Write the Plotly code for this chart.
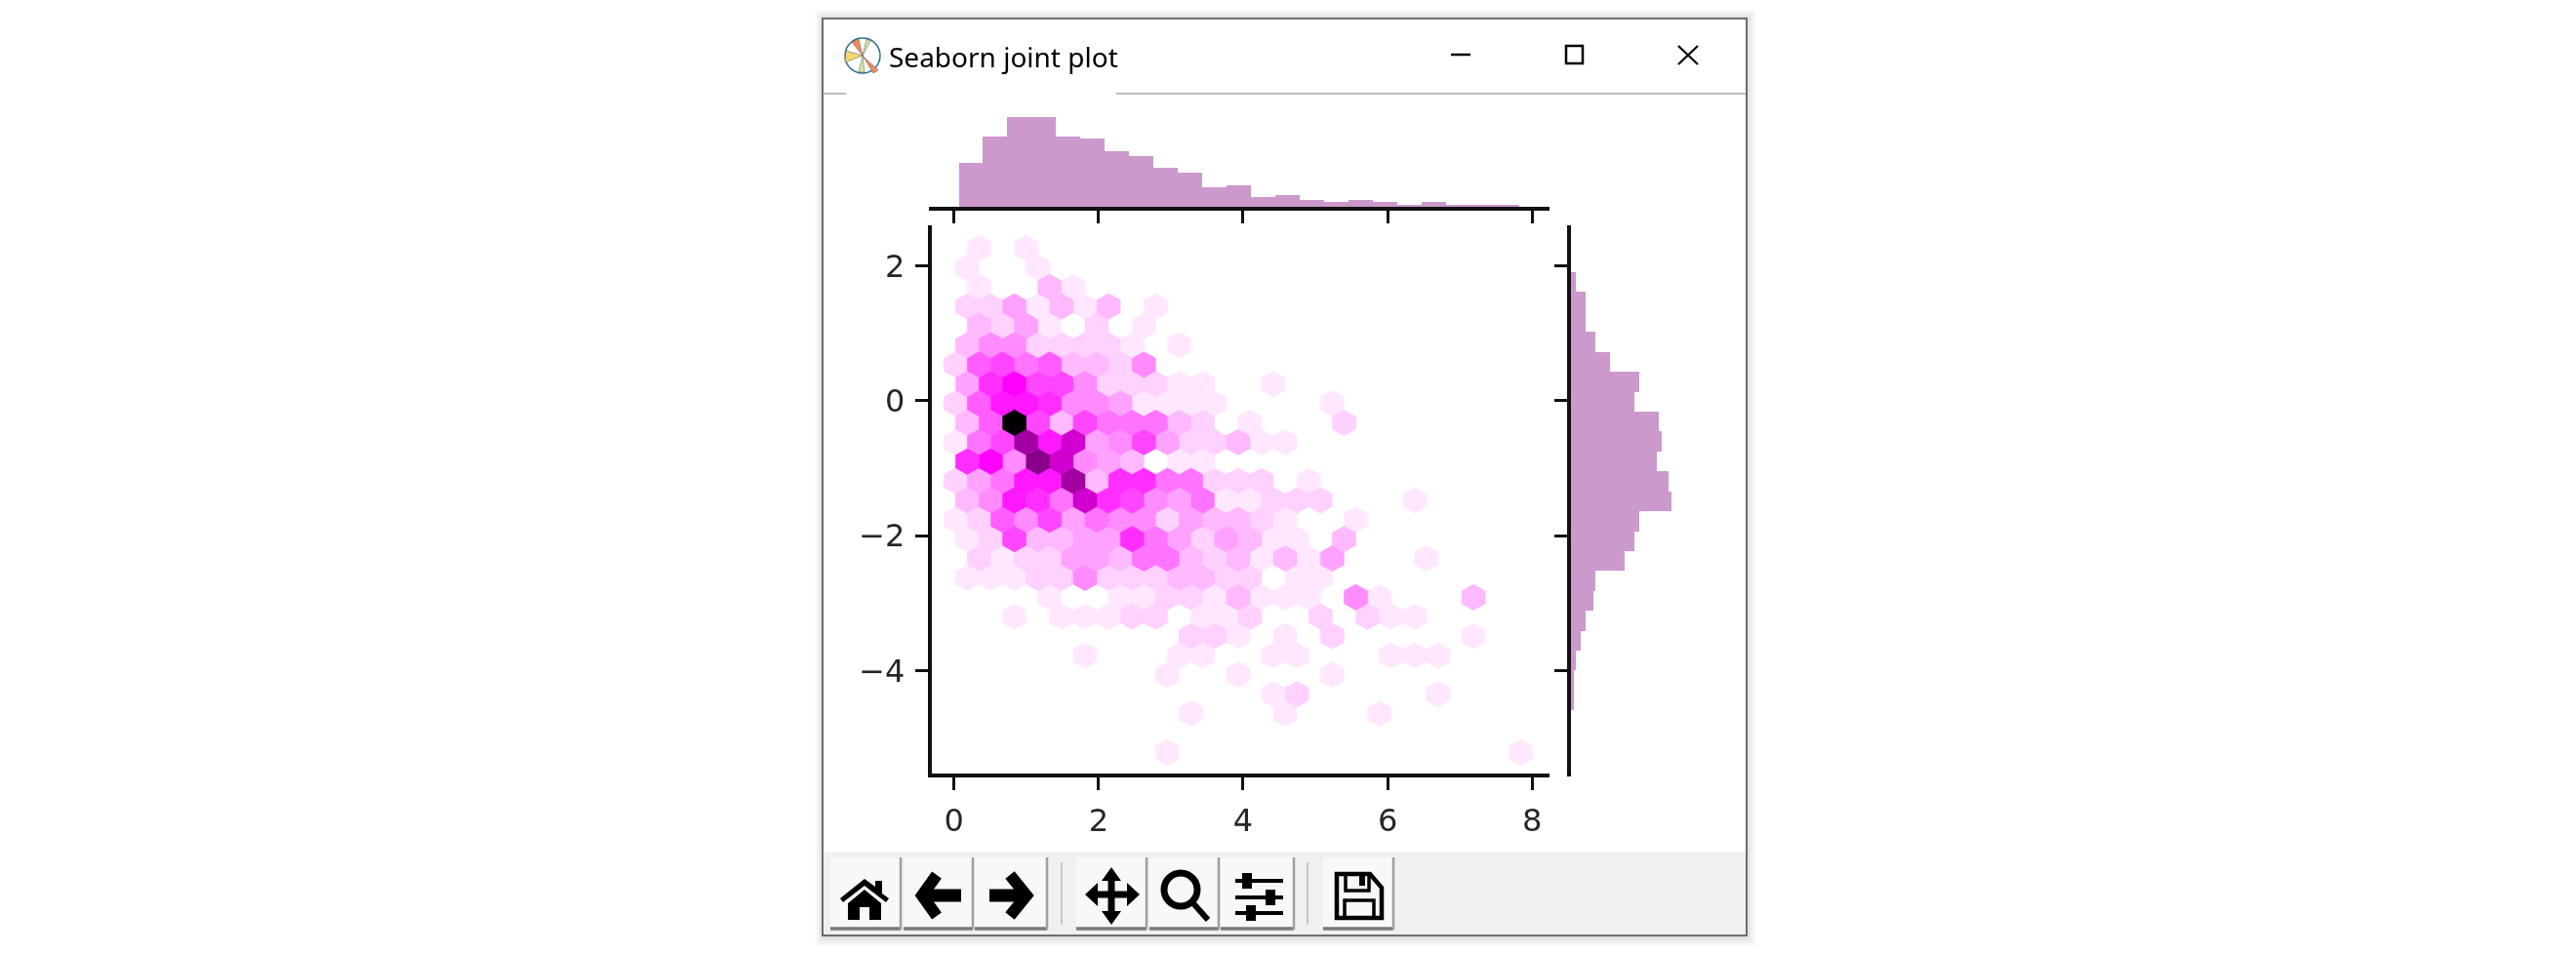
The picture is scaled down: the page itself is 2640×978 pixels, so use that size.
import colorsys
import plotly.graph_objects as go

PAGE_MARGIN = 8
W, H = 2640 - 2 * PAGE_MARGIN, 978 - 2 * PAGE_MARGIN

# ---- chart data ----
x_hist_start = 0.058
x_hist_width = 0.337
x_hist_counts = [18, 29, 37, 37, 29, 28, 23, 21, 16, 14, 8, 9, 4, 5, 3, 2, 3, 2, 1, 2, 1, 1, 1]

y_hist_start = 1.903
y_hist_width = -0.295
y_hist_counts = [2, 6, 6, 10, 16, 28, 26, 36, 37, 35, 40, 41, 28, 26, 22, 10, 9, 6, 4, 2, 1, 1]

hex_x0 = 0.0216
hex_dx = 0.3258
hex_y0 = 2.257
hex_dy = -0.2871
hex_cmax = 22
# counts per hexagon: one list per row from the top, index = column
hex_rows = [
    [0, 1, 0, 1],
    [1, 0, 0, 1],
    [0, 1, 0, 0, 3, 1],
    [2, 2, 4, 1, 3, 1, 3, 0, 1],
    [0, 3, 2, 4, 1, 0, 2, 0, 1],
    [3, 5, 5, 2, 2, 2, 2, 1, 0, 1],
    [2, 7, 8, 6, 7, 3, 3, 2, 5],
    [4, 9, 11, 8, 8, 5, 2, 2, 2, 1, 1, 0, 0, 1],
    [2, 7, 10, 10, 9, 5, 5, 4, 1, 1, 1, 1, 0, 0, 0, 0, 1],
    [3, 7, 22, 8, 3, 8, 6, 6, 6, 3, 2, 0, 1, 0, 0, 0, 2],
    [1, 6, 8, 15, 10, 13, 4, 5, 8, 4, 2, 2, 3, 1, 1],
    [9, 11, 5, 16, 13, 5, 4, 3, 0, 1, 1],
    [2, 4, 6, 10, 10, 15, 3, 9, 9, 6, 6, 2, 2, 2, 0, 1],
    [3, 5, 10, 9, 6, 13, 9, 8, 5, 4, 6, 1, 1, 2, 2, 2, 0, 0, 0, 1],
    [1, 2, 7, 5, 8, 4, 6, 5, 5, 2, 4, 3, 3, 2, 1, 0, 0, 1],
    [1, 2, 8, 3, 3, 4, 4, 9, 6, 4, 2, 4, 3, 1, 1, 0, 3],
    [0, 2, 1, 2, 2, 4, 4, 3, 6, 6, 3, 2, 3, 1, 3, 1, 4, 0, 0, 0, 1],
    [1, 1, 1, 2, 2, 5, 2, 2, 2, 3, 3, 2, 2, 0, 1, 1],
    [0, 0, 0, 0, 1, 0, 0, 1, 1, 2, 2, 1, 3, 1, 1, 1, 0, 5, 1, 0, 0, 0, 3],
    [0, 0, 1, 0, 1, 1, 1, 2, 2, 0, 1, 1, 2, 0, 0, 2, 0, 2, 1, 1],
    [0, 0, 0, 0, 0, 0, 0, 0, 0, 0, 2, 2, 1, 0, 1, 0, 2, 0, 0, 0, 0, 0, 1],
    [0, 0, 0, 0, 0, 1, 0, 0, 0, 1, 1, 0, 0, 1, 1, 0, 0, 0, 1, 1, 1],
    [0, 0, 0, 0, 0, 0, 0, 0, 0, 1, 0, 0, 1, 0, 0, 0, 1],
    [0, 0, 0, 0, 0, 0, 0, 0, 0, 0, 0, 0, 0, 1, 2, 0, 0, 0, 0, 0, 1],
    [0, 0, 0, 0, 0, 0, 0, 0, 0, 0, 1, 0, 0, 0, 1, 0, 0, 0, 1],
    [],
    [0, 0, 0, 0, 0, 0, 0, 0, 0, 1, 0, 0, 0, 0, 0, 0, 0, 0, 0, 0, 0, 0, 0, 0, 1],
]
x_ticks = [0, 2, 4, 6, 8]
y_ticks = [2, 0, -2, -4]
x_range = [-0.313, 8.24]
x2_range = [-0.354, 8.24]
y_range = [-5.521, 2.597]
y3_range = [-5.565, 2.597]
window_title = "Seaborn joint plot"

BAR = "rgb(204,153,204)"
INK = "#262626"


def fx(px):
    return (px - PAGE_MARGIN) / W


def fy(py):
    return 1 - (py - PAGE_MARGIN) / H


def hex_color(c):
    r, g, b = colorsys.hls_to_rgb(300 / 360, 1 - c / hex_cmax, 1)
    return f"rgb({round(r * 255)},{round(g * 255)},{round(b * 255)})"


fig = go.Figure()

# hexbin polygons, one trace per count level
groups = {}
for r, row in enumerate(hex_rows):
    for c, count in enumerate(row):
        if count:
            cx = hex_x0 + hex_dx * c + (hex_dx / 2 if r % 2 else 0)
            cy = hex_y0 + hex_dy * r
            sx, sy = hex_dx / 2, abs(hex_dy)
            xs = [cx + sx, cx + sx, cx, cx - sx, cx - sx, cx, cx + sx, None]
            ys = [cy + sy / 3, cy - sy / 3, cy - 2 * sy / 3, cy - sy / 3, cy + sy / 3, cy + 2 * sy / 3, cy + sy / 3, None]
            g = groups.setdefault(count, ([], []))
            g[0].extend(xs)
            g[1].extend(ys)
for count in sorted(groups):
    col = hex_color(count)
    fig.add_trace(go.Scatter(x=groups[count][0], y=groups[count][1], mode="lines", fill="toself",
                             fillcolor=col, line=dict(color=col, width=0.5), hoverinfo="skip",
                             showlegend=False, xaxis="x", yaxis="y"))

# marginals
fig.add_trace(go.Bar(x=[x_hist_start + x_hist_width * (i + 0.5) for i in range(len(x_hist_counts))],
                     y=x_hist_counts, width=x_hist_width, marker=dict(color=BAR, line=dict(width=0)),
                     showlegend=False, xaxis="x2", yaxis="y2"))
fig.add_trace(go.Bar(y=[y_hist_start + y_hist_width * (i + 0.5) for i in range(len(y_hist_counts))],
                     x=y_hist_counts, width=abs(y_hist_width), orientation="h",
                     marker=dict(color=BAR, line=dict(width=0)),
                     showlegend=False, xaxis="x3", yaxis="y3"))

# ---- window chrome, in pixels ----
shapes = []


def rect(x0, y0, x1, y1, fill=None, line=None, lw=0, layer="below"):
    shapes.append(dict(type="rect", xref="paper", yref="paper", x0=fx(x0), x1=fx(x1), y0=fy(y0), y1=fy(y1),
                       fillcolor=fill or "rgba(0,0,0,0)", line=dict(color=line or "rgba(0,0,0,0)", width=lw),
                       layer=layer))


def seg(x0, y0, x1, y1, color="#000", lw=2):
    shapes.append(dict(type="line", xref="paper", yref="paper", x0=fx(x0), x1=fx(x1), y0=fy(y0), y1=fy(y1),
                       line=dict(color=color, width=lw), layer="above"))


def path(points, fill=None, line=None, lw=0, close=True):
    d = "M " + " L ".join(f"{fx(a):.5f},{fy(b):.5f}" for a, b in points) + (" Z" if close else "")
    shapes.append(dict(type="path", xref="paper", yref="paper", path=d, fillcolor=fill or "rgba(0,0,0,0)",
                       line=dict(color=line or "rgba(0,0,0,0)", width=lw), layer="above"))


def circle(cx, cy, r, fill=None, line=None, lw=0):
    shapes.append(dict(type="circle", xref="paper", yref="paper", x0=fx(cx - r), x1=fx(cx + r), y0=fy(cy - r),
                       y1=fy(cy + r), fillcolor=fill or "rgba(0,0,0,0)",
                       line=dict(color=line or "rgba(0,0,0,0)", width=lw), layer="above"))


# shadow
for k in range(1, 8):
    rect(843 - k * 1.2, 19 - k * 1.5, 1790 + k * 1.6, 959 + k * 2, fill=f"rgba(0,0,0,{0.003 + 0.004 * (8 - k):.3f})")
rect(843, 19, 1790, 959, fill="#ffffff", line="#6e6e6e", lw=2)
rect(844, 874, 1789, 958, fill="#f0f0f0")
seg(844, 96, 867, 96, "#a8a8a8", 1.5)
seg(1144, 96, 1789, 96, "#a8a8a8", 1.5)

# title bar controls
seg(1487, 56, 1507, 56, "#000", 2.5)
rect(1605, 47, 1622, 65, line="#000", lw=2.5, layer="above")
seg(1720, 47, 1740, 66, "#000", 2.2)
seg(1740, 47, 1720, 66, "#000", 2.2)

# window icon
circle(884, 57, 18, fill="#ffffff", line="#2a6f8f", lw=1.5)
path([(884, 57), (873, 43), (880, 40)], fill="#f08a5d", line="#555", lw=0.5)
path([(884, 57), (900, 72), (895, 75)], fill="#f08a5d", line="#555", lw=0.5)
path([(884, 57), (867, 52), (866, 64)], fill="#f5d76e", line="#555", lw=0.5)
path([(884, 57), (886, 74), (880, 74)], fill="#cfe8a9", line="#555", lw=0.5)
path([(884, 57), (892, 42), (888, 40)], fill="#cfe8a9", line="#555", lw=0.5)

# toolbar buttons
for x0, x1 in [(851, 923), (926, 997), (999, 1073), (1103, 1175), (1178, 1249), (1251, 1326), (1356, 1428)]:
    rect(x0, 879, x1, 953, fill="#f8f8f8", layer="above")
    seg(x0, 952, x1, 952, "#7a7a7a", 3.5)
    seg(x1, 879, x1, 953, "#a0a0a0", 2.5)
seg(1088, 884, 1088, 948, "#c8c8c8", 2)
seg(1340, 884, 1340, 948, "#c8c8c8", 2)

# home
path([(861, 921), (886, 901), (897, 909), (897, 903), (904, 903), (904, 916), (911, 921), (908, 925), (886, 908), (864, 925)], fill="#000")
path([(869, 926), (886, 912), (903, 926), (903, 943), (891, 943), (891, 930), (881, 930), (881, 943), (869, 943)], fill="#000")
# back
path([(960, 897), (945, 918), (960, 939)], line="#000", lw=12, close=False)
seg(947, 918, 985, 918, "#000", 13)
# forward
path([(1035, 897), (1052, 918), (1035, 939)], line="#000", lw=12, close=False)
seg(1014, 918, 1050, 918, "#000", 13)
# move
seg(1120, 917, 1160, 917, "#000", 7)
seg(1139, 898, 1139, 938, "#000", 7)
path([(1112, 917), (1125, 905), (1125, 929)], fill="#000")
path([(1168, 917), (1155, 905), (1155, 929)], fill="#000")
path([(1139, 889), (1129, 903), (1149, 903)], fill="#000")
path([(1139, 948), (1129, 934), (1149, 934)], fill="#000")
# zoom
circle(1210, 912, 17, line="#000", lw=7)
seg(1222, 925, 1238, 943, "#000", 6)
# sliders
for y, kx in [(903, 1278), (920, 1302), (936, 1282)]:
    seg(1266, y, 1315, y, "#000", 4)
    rect(kx - 5, y - 8, kx + 5, y + 8, fill="#000", layer="above")
# save
path([(1370, 896), (1404, 896), (1416, 910), (1416, 941), (1370, 941)], line="#000", lw=4.5)
rect(1379, 896, 1403, 913, line="#000", lw=3.5, layer="above")
rect(1393, 898, 1399, 908, fill="#000", layer="above")
rect(1378, 923, 1408, 941, line="#000", lw=3.5, layer="above")

tickfont = dict(family="DejaVu Sans", size=32, color=INK)
spine = dict(showline=True, linecolor="#111111", linewidth=3.5, ticks="outside", ticklen=13, tickwidth=3,
             tickcolor="#111111", showgrid=False, zeroline=False)

fig.update_layout(
    width=W, height=H, margin=dict(l=0, r=0, t=0, b=0), paper_bgcolor="#ffffff", plot_bgcolor="rgba(0,0,0,0)",
    showlegend=False, bargap=0, shapes=shapes,
    xaxis=dict(domain=[fx(954.5), fx(1588)], range=x_range, anchor="y", tickmode="array", tickvals=x_ticks,
               ticktext=[str(v) for v in x_ticks], tickfont=tickfont, ticklabelstandoff=4, **spine),
    yaxis=dict(domain=[fy(793), fy(231)], range=y_range, anchor="x", tickmode="array", tickvals=y_ticks,
               ticktext=[str(v).replace("-", "\u2212") for v in y_ticks], tickfont=tickfont, ticklabelstandoff=4, **spine),
    xaxis2=dict(domain=[fx(951.5), fx(1588)], range=x2_range, anchor="y2", tickmode="array", tickvals=x_ticks,
                showticklabels=False, **spine),
    yaxis2=dict(domain=[fy(212), fy(100)], range=[0, 112 / 2.5], anchor="x2", visible=False),
    xaxis3=dict(domain=[fx(1610), fx(1760)], range=[0, 150 / 2.5], anchor="y3", visible=False),
    yaxis3=dict(domain=[fy(796), fy(231)], range=y3_range, anchor="x3", tickmode="array", tickvals=y_ticks,
                showticklabels=False, **spine),
    annotations=[dict(text=window_title, xref="paper", yref="paper", x=fx(909), y=fy(58), xanchor="left",
                      yanchor="middle", showarrow=False, font=dict(family="Noto Sans", size=28, color="#000"))],
)

# the reference is a soft, upscaled screenshot
fig.write_html("out.html", post_script="document.body.style.filter='blur(0.7px)';")
